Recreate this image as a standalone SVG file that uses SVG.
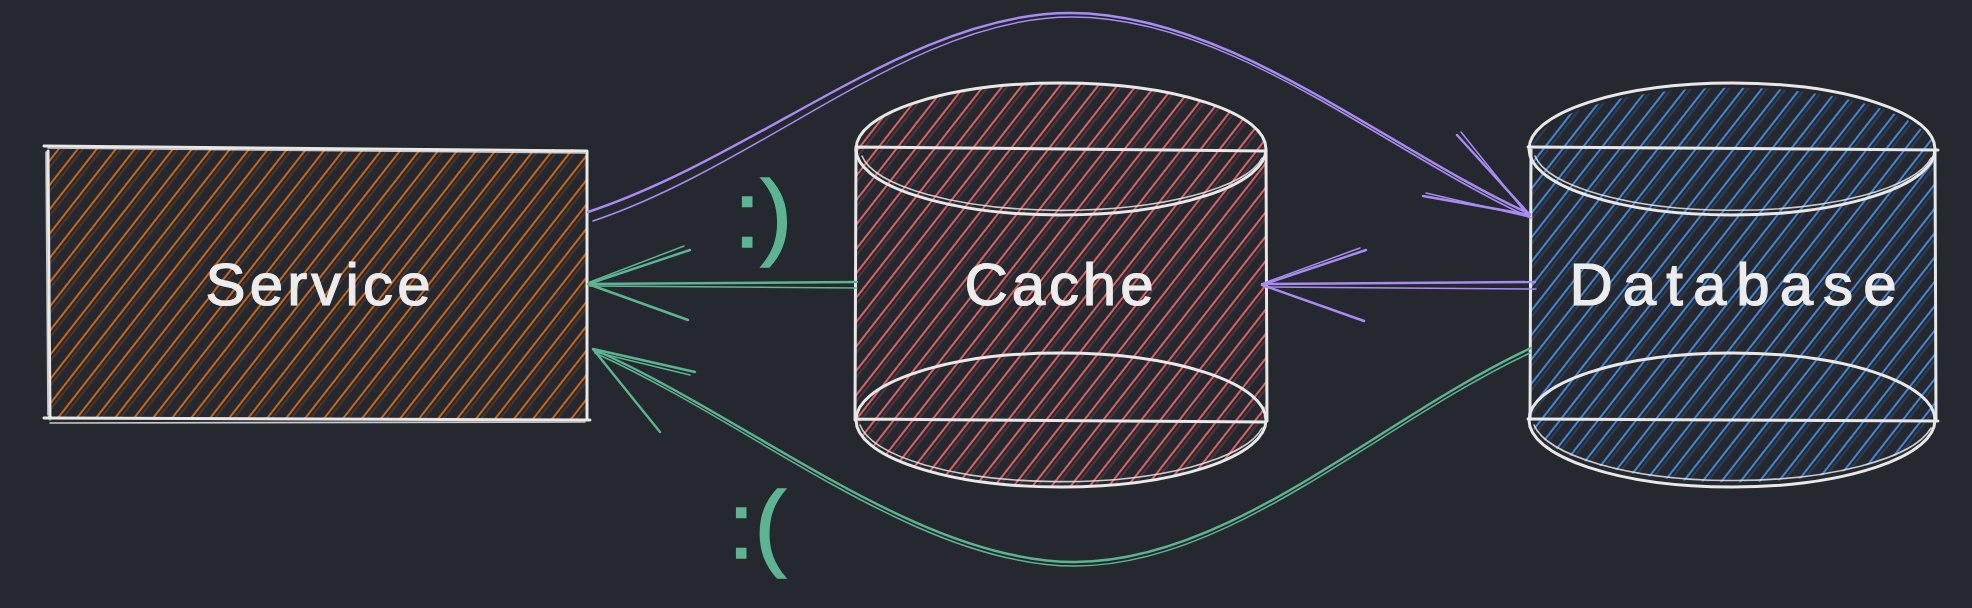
<svg xmlns="http://www.w3.org/2000/svg" width="1972" height="608" viewBox="0 0 1972 608">
  <style>
    .outline { fill: none; stroke: #e8e8e8; stroke-width: 3; stroke-linecap: round; stroke-linejoin: round; }
    .outline-thin { fill: none; stroke: #e8e8e8; stroke-width: 1.6; stroke-linecap: round; opacity: 0.85; }
    .label { font-family: "Liberation Sans", Arial, sans-serif; font-size: 60px; fill: #ececec; stroke: #ececec; stroke-width: 1.2; text-anchor: middle; }
    .emoji { font-family: "Liberation Sans", Arial, sans-serif; font-size: 95px; fill: #5cb592; stroke: #5cb592; stroke-width: 1.5; }
    .purple { fill: none; stroke: #a98cf2; stroke-width: 2.4; stroke-linecap: round; stroke-linejoin: round; }
    .green { fill: none; stroke: #5cb592; stroke-width: 2.4; stroke-linecap: round; stroke-linejoin: round; }
    .thin { stroke-width: 1.5; }
  </style>
  <defs>
    <pattern id="hatch-orange" patternUnits="userSpaceOnUse" width="15" height="15" patternTransform="rotate(38)">
      <line x1="3" y1="0" x2="3" y2="15" stroke="#c8661a" stroke-width="2"/>
      <line x1="7" y1="0" x2="7" y2="15" stroke="#c8661a" stroke-width="1" opacity="0.45"/>
    </pattern>
    <pattern id="hatch-red" patternUnits="userSpaceOnUse" width="15" height="15" patternTransform="rotate(38)">
      <line x1="3" y1="0" x2="3" y2="15" stroke="#dc6262" stroke-width="2"/>
      <line x1="7" y1="0" x2="7" y2="15" stroke="#dc6262" stroke-width="1" opacity="0.45"/>
    </pattern>
    <pattern id="hatch-blue" patternUnits="userSpaceOnUse" width="15" height="15" patternTransform="rotate(38)">
      <line x1="3" y1="0" x2="3" y2="15" stroke="#4286d6" stroke-width="2"/>
      <line x1="7" y1="0" x2="7" y2="15" stroke="#4286d6" stroke-width="1" opacity="0.45"/>
    </pattern>
  </defs>

  <rect x="0" y="0" width="1972" height="608" fill="#25282e"/>

  <g id="service">
    <rect x="48" y="149" width="539" height="270" fill="url(#hatch-orange)"/>
    <path class="outline" d="M44,146 L587,151 M48,151 L50,419 M587,151 L587,419 M44,418 L590,420"/>
    <path class="outline-thin" d="M48,148 L585,153 M46,152 L48,415 M50,423 L585,422"/>
    <text class="label" x="318" y="305" textLength="225" lengthAdjust="spacing">Service</text>
  </g>

  <g id="cache">
    <path d="M856,149 A205,66 0 0 1 1266,149 L1266,420 A205,67 0 0 1 856,420 Z" fill="url(#hatch-red)"/>
    <ellipse class="outline" cx="1061" cy="149" rx="205" ry="66"/>
    <path class="outline-thin" d="M862,156 A202,62 0 0 0 1262,158"/>
    <path class="outline" d="M856,147 L1266,151 M856,149 L855,420 M1266,151 L1267,421 M855,419 L1266,422"/>
    <ellipse class="outline" cx="1061" cy="420" rx="205" ry="67"/>
    <path class="outline-thin" d="M860,425 A203,64 0 0 0 1262,428"/>
    <text class="label" x="1059" y="305" textLength="189" lengthAdjust="spacing">Cache</text>
  </g>

  <g id="database">
    <path d="M1530,149 A203,66 0 0 1 1935,149 L1935,420 A203,67 0 0 1 1530,420 Z" fill="url(#hatch-blue)"/>
    <ellipse class="outline" cx="1732" cy="149" rx="203" ry="66"/>
    <path class="outline-thin" d="M1535,156 A200,62 0 0 0 1931,158"/>
    <path class="outline" d="M1528,147 L1938,150 M1531,149 L1530,420 M1935,150 L1936,421 M1528,419 L1938,421"/>
    <ellipse class="outline" cx="1732" cy="420" rx="203" ry="67"/>
    <path class="outline-thin" d="M1534,425 A201,64 0 0 0 1931,428"/>
    <text class="label" x="1733" y="305" textLength="327" lengthAdjust="spacing">Database</text>
  </g>

  <g id="connectors">
    <g id="service-to-database">
      <path class="purple" d="M588,212 C760,155 912,13 1070,13 C1230,13 1385,148 1530,214"/>
      <path class="purple thin" d="M593,221 C765,163 912,17 1072,17 C1232,17 1386,152 1531,218"/>
      <path class="purple" d="M1457,135 L1530,215 L1423,196"/>
      <path class="purple thin" d="M1461,132 L1529,217 L1426,193"/>
    </g>
    <g id="database-to-cache">
      <path class="purple" d="M1535,282 L1262,284"/>
      <path class="purple thin" d="M1536,289 L1265,287"/>
      <path class="purple" d="M1366,250 L1262,285 L1364,321"/>
      <path class="purple thin" d="M1360,248 L1264,283"/>
    </g>
    <g id="cache-to-service">
      <path class="green" d="M857,282 L588,284"/>
      <path class="green thin" d="M857,288 L590,286"/>
      <path class="green" d="M690,250 L588,284 L688,320"/>
      <path class="green thin" d="M684,246 L590,282"/>
    </g>
    <g id="database-to-service">
      <path class="green" d="M1531,348 C1379,419 1231,562 1075,562 C918,562 753,420 593,349"/>
      <path class="green thin" d="M1530,353 C1379,423 1231,566 1075,566 C918,566 753,424 595,353"/>
      <path class="green" d="M695,372 L593,349 L660,432"/>
      <path class="green thin" d="M690,375 L595,352"/>
    </g>
    <text id="label-hit" class="emoji" x="734" y="247">:)</text>
    <text id="label-miss" class="emoji" x="728" y="558">:(</text>
  </g>
</svg>
